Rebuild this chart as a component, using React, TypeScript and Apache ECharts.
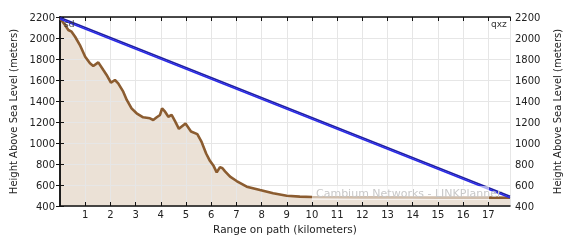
import React, { useEffect, useRef } from "react";
import * as echarts from "echarts";

const terrainKm = [
  0, 0.2, 0.33, 0.46, 0.6, 0.79, 1.0, 1.19, 1.32, 1.52, 1.72, 1.85, 2.02, 2.18, 2.31, 2.51, 2.65, 2.84,
  3.04, 3.3, 3.57, 3.7, 3.84, 3.97, 4.05, 4.17, 4.3, 4.43, 4.56, 4.72, 4.98, 5.2, 5.45, 5.62, 5.8, 5.95,
  6.1, 6.22, 6.35, 6.45, 6.55, 6.75, 7.01, 7.41, 7.94, 8.46, 9.0, 9.52, 10.0, 11, 12, 13, 14, 15, 16, 17, 17.86,
];
const terrainHeight = [
  2188, 2124, 2076, 2060, 2012, 1933, 1822, 1759, 1733, 1768, 1695, 1648, 1574, 1600, 1568, 1489, 1410, 1330,
  1283, 1245, 1235, 1219, 1245, 1267, 1330, 1298, 1250, 1267, 1210, 1135, 1185, 1110, 1085, 1010, 900, 830,
  780, 720, 770, 760, 730, 679, 638, 584, 552, 521, 498, 489, 485, 483, 482, 482, 481, 480, 480, 480, 478,
];
const linkKm = [0, 17.86];
const linkUpper = [2196, 493];
const linkLower = [2180, 479];

const siteLeft = "sd";
const siteRight = "qxz";
const watermark = "Cambium Networks - LINKPlanner";
const xName = "Range on path (kilometers)";
const yName = "Height Above Sea Level (meters)";

const FONT = "DejaVu Sans";

export default function App() {
  const ref = useRef<HTMLDivElement>(null);
  useEffect(() => {
    if (!ref.current) return;
    const chart = echarts.init(ref.current, null, { renderer: "svg" });
    const terrain = terrainKm.map((k, i) => [k, terrainHeight[i]]);
    const upper = linkKm.map((k, i) => [k, linkUpper[i]]);
    const lower = linkKm.map((k, i) => [k, linkLower[i]]);
    const axisLine = { show: true, lineStyle: { color: "#111", width: 1.5 } };
    const tick = { show: true, inside: true, length: 4, lineStyle: { color: "#111", width: 1 } };
    const split = { show: true, lineStyle: { color: "#e6e6e6", width: 1 } };
    const label = { fontSize: 10, color: "#222", fontFamily: FONT };
    const yFmt = (v: number) => String(v);
    chart.setOption({
      animation: false,
      textStyle: { fontFamily: FONT },
      grid: { left: 60, right: 66, top: 17, bottom: 34, containLabel: false },
      xAxis: [
        {
          type: "value",
          min: 0,
          max: 17.86,
          interval: 1,
          position: "bottom",
          z: 3,
          axisLine,
          axisTick: tick,
          splitLine: split,
          axisLabel: {
            ...label,
            margin: 3,
            showMinLabel: false,
            showMaxLabel: false,
            formatter: (v: number) => (Number.isInteger(v) && v > 0 && v <= 17 ? String(v) : ""),
          },
          name: xName,
          nameLocation: "middle",
          nameGap: 16,
          nameTextStyle: { fontSize: 10.5, color: "#222", fontFamily: FONT },
        },
        {
          type: "value",
          min: 0,
          max: 17.86,
          interval: 1,
          position: "top",
          z: 3,
          axisLine,
          axisTick: tick,
          splitLine: { show: false },
          axisLabel: { show: false },
        },
      ],
      yAxis: [
        {
          type: "value",
          min: 400,
          max: 2200,
          interval: 200,
          position: "left",
          z: 3,
          axisLine,
          axisTick: tick,
          splitLine: split,
          axisLabel: { ...label, margin: 5, formatter: yFmt },
          name: yName,
          nameLocation: "middle",
          nameGap: 42,
          nameRotate: 90,
          nameTextStyle: { fontSize: 10, color: "#222", fontFamily: FONT },
        },
        {
          type: "value",
          min: 400,
          max: 2200,
          interval: 200,
          position: "right",
          z: 3,
          axisLine,
          axisTick: tick,
          splitLine: { show: false },
          axisLabel: { ...label, margin: 5, formatter: yFmt },
          name: yName,
          nameLocation: "middle",
          nameGap: 42,
          nameRotate: 90,
          nameTextStyle: { fontSize: 10, color: "#222", fontFamily: FONT },
        },
      ],
      series: [
        {
          type: "line",
          data: terrain,
          z: 1,
          showSymbol: false,
          lineStyle: { width: 0 },
          areaStyle: { color: "#ebe1d6", origin: "start", opacity: 1 },
          silent: true,
        },
        {
          type: "line",
          data: terrain,
          z: 5,
          showSymbol: false,
          lineStyle: { color: "#8b5c30", width: 2.6 },
        },
        {
          type: "line",
          data: upper,
          z: 6,
          showSymbol: false,
          lineStyle: { color: "#1f1fa0", width: 1.6 },
        },
        {
          type: "line",
          data: lower,
          z: 6,
          showSymbol: false,
          lineStyle: { color: "#2a2ae6", width: 1.6 },
        },
      ],
      graphic: [
        {
          type: "rect",
          z: 20,
          shape: { x: 312, y: 186, width: 177, height: 14 },
          style: { fill: "rgba(255,255,255,0.6)" },
        },
        {
          type: "text",
          z: 21,
          x: 316,
          y: 193,
          style: {
            text: watermark,
            font: `11px '${FONT}'`,
            fill: "#c8c8c8",
            verticalAlign: "middle",
          },
        },
        {
          type: "text",
          z: 21,
          x: 64,
          y: 24,
          style: { text: siteLeft, font: `9px '${FONT}'`, fill: "#333", verticalAlign: "middle" },
        },
        {
          type: "text",
          z: 21,
          x: 491,
          y: 24,
          style: { text: siteRight, font: `9px '${FONT}'`, fill: "#333", verticalAlign: "middle" },
        },
      ],
    });
    return () => chart.dispose();
  }, []);
  return <div ref={ref} style={{ position: "fixed", left: 0, top: 0, width: 576, height: 240 }} />;
}
